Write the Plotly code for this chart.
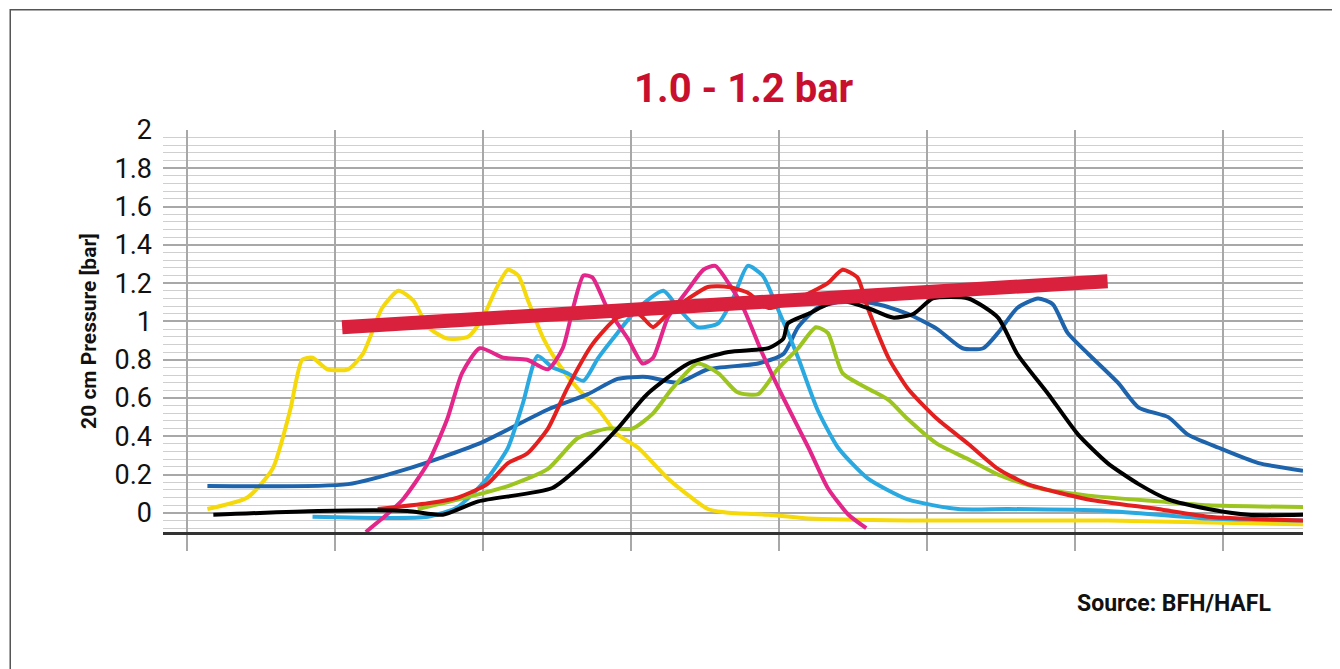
import plotly.graph_objects as go

yellow_x = [1.14,1.41,1.58,1.70,1.78,1.85,1.95,2.09,2.19,2.32,2.43,2.53,2.63,2.76,2.90,3.0,3.09,3.17,3.24,3.30,3.41,3.51,3.64,3.78,3.91,4.05,4.25,4.52,4.66,4.93,5.20,5.87,7.22,8.54]
yellow_y = [0.02,0.08,0.23,0.54,0.8,0.81,0.75,0.75,0.83,1.07,1.16,1.11,0.97,0.91,0.92,1.02,1.17,1.27,1.24,1.12,0.91,0.78,0.65,0.54,0.41,0.34,0.18,0.02,0.0,-0.01,-0.03,-0.04,-0.04,-0.06]

dblue_x = [1.14,2.09,2.49,2.97,3.44,3.71,3.91,4.11,4.32,4.52,4.86,5.03,5.13,5.26,5.47,5.67,5.87,6.07,6.24,6.38,6.48,6.61,6.75,6.85,6.95,7.09,7.29,7.43,7.63,7.76,7.97,8.24,8.54]
dblue_y = [0.14,0.15,0.23,0.36,0.54,0.62,0.70,0.71,0.68,0.75,0.78,0.83,0.97,1.07,1.11,1.09,1.04,0.96,0.86,0.86,0.94,1.07,1.12,1.09,0.94,0.83,0.68,0.55,0.50,0.41,0.34,0.26,0.22]

black_x = [1.18,1.89,2.49,2.73,2.97,3.47,3.68,3.91,4.11,4.39,4.66,4.93,5.03,5.06,5.20,5.40,5.60,5.77,5.91,6.04,6.28,6.48,6.61,6.82,7.02,7.22,7.43,7.63,7.90,8.17,8.54]
black_y = [-0.01,0.01,0.01,-0.01,0.06,0.13,0.26,0.44,0.62,0.78,0.84,0.86,0.91,0.99,1.04,1.11,1.07,1.02,1.04,1.12,1.12,1.02,0.83,0.62,0.41,0.26,0.15,0.07,0.02,-0.01,-0.01]

lblue_x = [1.85,2.63,2.83,3.03,3.17,3.27,3.37,3.47,3.57,3.68,3.78,3.91,4.05,4.22,4.32,4.45,4.59,4.69,4.79,4.89,4.99,5.13,5.26,5.40,5.60,5.87,6.21,6.55,7.22,7.90,8.54]
lblue_y = [-0.02,-0.02,0.03,0.18,0.34,0.57,0.82,0.76,0.73,0.69,0.81,0.94,1.07,1.16,1.07,0.97,0.99,1.12,1.29,1.24,1.07,0.81,0.54,0.34,0.18,0.07,0.02,0.02,0.01,-0.03,-0.04]

magenta_x = [2.21,2.32,2.46,2.63,2.76,2.86,2.98,3.14,3.30,3.44,3.54,3.61,3.68,3.74,3.84,3.98,4.08,4.15,4.25,4.39,4.49,4.57,4.66,4.76,4.89,5.03,5.20,5.33,5.47,5.59]
magenta_y = [-0.10,-0.03,0.07,0.26,0.49,0.73,0.86,0.81,0.80,0.75,0.86,1.07,1.24,1.23,1.07,0.91,0.78,0.81,1.02,1.17,1.27,1.29,1.20,1.07,0.83,0.60,0.34,0.13,-0.01,-0.08]

red_x = [2.29,2.63,2.83,3.03,3.17,3.30,3.44,3.57,3.74,3.91,4.05,4.15,4.25,4.39,4.52,4.66,4.79,4.93,5.13,5.33,5.43,5.53,5.60,5.74,5.87,6.07,6.28,6.48,6.68,7.09,7.56,7.90,8.54]
red_y = [0.02,0.05,0.08,0.15,0.26,0.31,0.44,0.65,0.88,1.02,1.04,0.97,1.04,1.12,1.18,1.18,1.15,1.07,1.12,1.20,1.27,1.23,1.07,0.81,0.65,0.49,0.36,0.23,0.15,0.07,0.02,-0.02,-0.04]

green_x = [2.56,2.83,3.17,3.44,3.64,3.84,4.01,4.15,4.28,4.45,4.59,4.72,4.86,4.99,5.13,5.25,5.33,5.43,5.60,5.74,5.87,6.07,6.28,6.48,6.75,7.09,7.56,7.90,8.54]
green_y = [0.02,0.07,0.14,0.23,0.39,0.44,0.44,0.52,0.65,0.78,0.73,0.63,0.62,0.75,0.86,0.97,0.94,0.73,0.65,0.59,0.49,0.36,0.28,0.20,0.13,0.09,0.06,0.04,0.03]

trend_x = [2.05, 7.22]
trend_y = [0.97, 1.21]

fig = go.Figure()
series = [
    (yellow_x, yellow_y, "#f5d90a"),
    (dblue_x, dblue_y, "#1d64ad"),
    (lblue_x, lblue_y, "#2aa9e0"),
    (green_x, green_y, "#9cc520"),
    (magenta_x, magenta_y, "#e3268a"),
    (red_x, red_y, "#e3201f"),
    (black_x, black_y, "#000000"),
]
for x, y, c in series:
    fig.add_trace(go.Scatter(x=x, y=y, mode="lines", line=dict(color=c, width=4, shape="spline", smoothing=0.6),
                             showlegend=False, hoverinfo="skip"))
fig.add_trace(go.Scatter(x=trend_x, y=trend_y, mode="lines", line=dict(color="#d9203d", width=14),
                         showlegend=False, hoverinfo="skip"))

fig.update_layout(
    width=1340, height=669,
    margin=dict(l=155, r=45, t=122, b=145, autoexpand=False),
    paper_bgcolor="white", plot_bgcolor="white",
    font=dict(family="Roboto", color="#111"),
    title=dict(text="<b>1.0 - 1.2 bar</b>", x=0.549, xanchor="center", y=0.88, yanchor="middle",
               font=dict(size=40, color="#c8102e", family="Roboto")),
    xaxis=dict(range=[0.84, 8.54], tickvals=[1,2,3,4,5,6,7,8], showticklabels=False, automargin=False,
               showgrid=True, gridcolor="#a8a8a8", gridwidth=2, zeroline=False,
               ticks="outside", ticklen=16, tickcolor="#a8a8a8", tickwidth=2,
               showline=True, linecolor="#333", linewidth=3),
    yaxis=dict(range=[-0.1, 2.0], tickvals=[0,0.2,0.4,0.6,0.8,1,1.2,1.4,1.6,1.8,2], automargin=False,
               ticktext=["0","0.2","0.4","0.6","0.8","1","1.2","1.4","1.6","1.8","2"],
               tickfont=dict(size=27, color="#111"), showgrid=True, gridcolor="#a8a8a8", gridwidth=2,
               zeroline=False, showline=False, ticks="", ticklabelstandoff=10,
               minor=dict(dtick=0.04, showgrid=True, gridcolor="#cfcfcf", gridwidth=1),
               title=dict(text="<b>20 cm Pressure [bar]</b>", font=dict(size=21, color="#111"), standoff=12)),
)
fig.add_annotation(text="<b>Source: BFH/HAFL</b>", xref="paper", yref="paper", x=0.974, y=-0.177,
                   xanchor="right", yanchor="middle", showarrow=False, font=dict(size=23, color="#111"))
fig.add_shape(type="rect", xref="paper", yref="paper", x0=-0.134, x1=1.036, y0=-0.353, y1=1.299,
              line=dict(color="#555", width=1.5), fillcolor="rgba(0,0,0,0)")
fig.write_html("out.html")
